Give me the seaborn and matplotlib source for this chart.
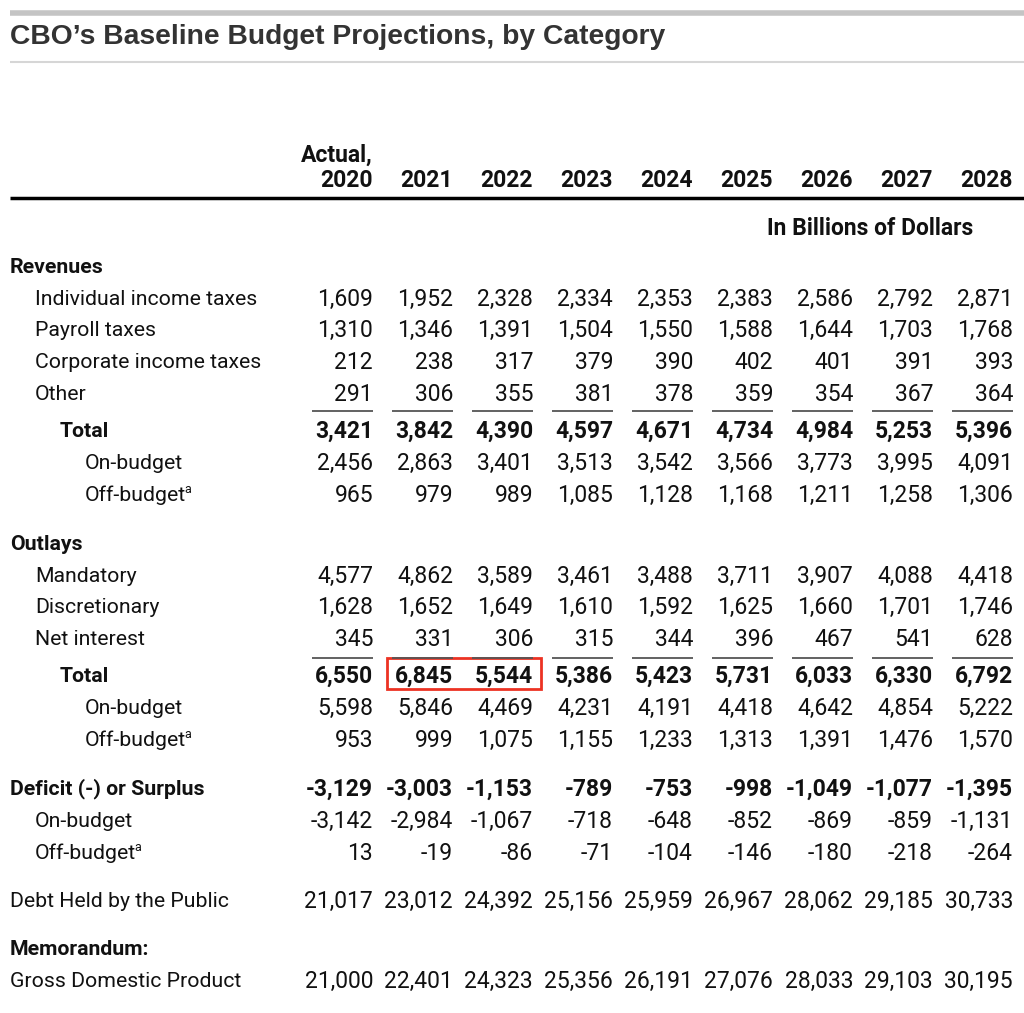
import seaborn as sns
import pandas as pd
import numpy as np
from matplotlib import pyplot as plt
from matplotlib.patches import Rectangle

sns.set_theme(style="white")
body_font = ['Roboto', 'DejaVu Sans']
plt.rcParams['font.family'] = body_font

# Data
years = ['2020', '2021', '2022', '2023', '2024', '2025', '2026', '2027', '2028']

indiv_income = [1609, 1952, 2328, 2334, 2353, 2383, 2586, 2792, 2871]
payroll = [1310, 1346, 1391, 1504, 1550, 1588, 1644, 1703, 1768]
corporate = [212, 238, 317, 379, 390, 402, 401, 391, 393]
rev_other = [291, 306, 355, 381, 378, 359, 354, 367, 364]
rev_total = [3421, 3842, 4390, 4597, 4671, 4734, 4984, 5253, 5396]
rev_on = [2456, 2863, 3401, 3513, 3542, 3566, 3773, 3995, 4091]
rev_off = [965, 979, 989, 1085, 1128, 1168, 1211, 1258, 1306]

mandatory = [4577, 4862, 3589, 3461, 3488, 3711, 3907, 4088, 4418]
discretionary = [1628, 1652, 1649, 1610, 1592, 1625, 1660, 1701, 1746]
net_interest = [345, 331, 306, 315, 344, 396, 467, 541, 628]
out_total = [6550, 6845, 5544, 5386, 5423, 5731, 6033, 6330, 6792]
out_on = [5598, 5846, 4469, 4231, 4191, 4418, 4642, 4854, 5222]
out_off = [953, 999, 1075, 1155, 1233, 1313, 1391, 1476, 1570]

deficit = [-3129, -3003, -1153, -789, -753, -998, -1049, -1077, -1395]
def_on = [-3142, -2984, -1067, -718, -648, -852, -869, -859, -1131]
def_off = [13, -19, -86, -71, -104, -146, -180, -218, -264]

debt = [21017, 23012, 24392, 25156, 25959, 26967, 28062, 29185, 30733]
gdp = [21000, 22401, 24323, 25356, 26191, 27076, 28033, 29103, 30195]

# (label, values, y, indent, bold, footnote)
rows = [
    ('Revenues', None, 266, 10, True, False),
    ('Individual income taxes', indiv_income, 298, 35, False, False),
    ('Payroll taxes', payroll, 329, 35, False, False),
    ('Corporate income taxes', corporate, 361, 35, False, False),
    ('Other', rev_other, 393, 35, False, False),
    ('Total', rev_total, 430, 60, True, False),
    ('On-budget', rev_on, 462, 85, False, False),
    ('Off-budget', rev_off, 494, 85, False, True),
    ('Outlays', None, 543, 10, True, False),
    ('Mandatory', mandatory, 575, 35, False, False),
    ('Discretionary', discretionary, 606, 35, False, False),
    ('Net interest', net_interest, 638, 35, False, False),
    ('Total', out_total, 675, 60, True, False),
    ('On-budget', out_on, 707, 85, False, False),
    ('Off-budget', out_off, 739, 85, False, True),
    ('Deficit (-) or Surplus', deficit, 788, 10, True, False),
    ('On-budget', def_on, 820, 35, False, False),
    ('Off-budget', def_off, 852, 35, False, True),
    ('Debt Held by the Public', debt, 900, 10, False, False),
    ('Memorandum:', None, 948, 10, True, False),
    ('Gross Domestic Product', gdp, 980, 10, False, False),
]

col_right = 373 + 80 * np.arange(len(years))
fs = 16.5
label_fs = 15.3
ink = '#111111'

fig = plt.figure(figsize=(10.24, 10.13), dpi=100)
ax = fig.add_axes([0, 0, 1, 1])
ax.set_xlim(0, 1024)
ax.set_ylim(1013, 0)
ax.axis('off')

# Title block
ax.plot([10, 1024], [13, 13], color='#c4c4c4', lw=4, solid_capstyle='butt')
ax.text(10, 37, 'CBO\u2019s Baseline Budget Projections, by Category', fontsize=20.3,
        fontweight='bold', color='#333333', va='center', ha='left',
        family=['Liberation Sans', 'DejaVu Sans'])
ax.plot([10, 1024], [62, 62], color='#d6d6d6', lw=1.5, solid_capstyle='butt')

# Header
ax.text(col_right[0], 155, 'Actual,', fontsize=fs, fontweight='bold', ha='right', va='center', color=ink)
for x, yr in zip(col_right, years):
    ax.text(x, 180, yr, fontsize=fs, fontweight='bold', ha='right', va='center', color=ink)
ax.plot([10, 1024], [198, 198], color='black', lw=2.5, solid_capstyle='butt')
ax.text(870, 228, 'In Billions of Dollars', fontsize=fs, fontweight='bold', ha='center',
        va='center', color=ink)

# Body
fig.canvas.draw()
renderer = fig.canvas.get_renderer()
for label, vals, y, indent, bold, foot in rows:
    w = 'bold' if bold else 'normal'
    t = ax.text(indent, y + 1, label, fontsize=label_fs, fontweight=w, ha='left', va='center', color=ink)
    if foot:
        bb = t.get_window_extent(renderer=renderer)
        x_end = ax.transData.inverted().transform((bb.x1, bb.y0))[0]
        ax.text(x_end - 1.5, y - 5, 'a', fontsize=9, ha='left', va='center', color=ink)
    if vals is None:
        continue
    for x, v in zip(col_right, vals):
        ax.text(x, y + 1, '{:,}'.format(v), fontsize=fs, fontweight=w, ha='right', va='center',
                color=ink)

# Rules above totals
for y in [411, 658]:
    for x in col_right:
        ax.plot([x - 61, x], [y, y], color='#555555', lw=1.3, solid_capstyle='butt')

# Highlight box
ax.add_patch(Rectangle((387, 658), 154, 31, fill=False, edgecolor='#ec3223', lw=2))

fig.savefig('out.png', dpi=100, facecolor='white')
